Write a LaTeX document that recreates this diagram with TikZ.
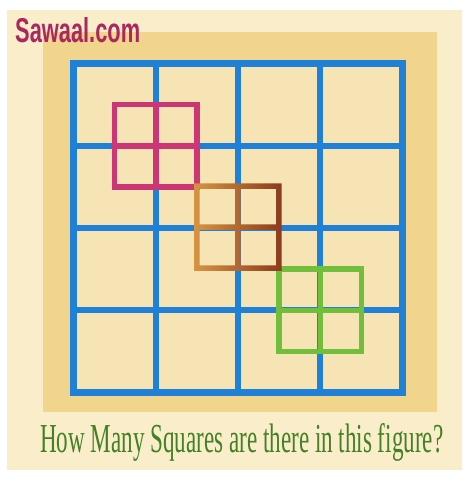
\documentclass[tikz,border=0pt]{standalone}
\usepackage{fontspec}
\setmainfont{Liberation Serif}
\newfontfamily\logofont{Liberation Sans}
\usepackage{graphicx}
\definecolor{gridblue}{RGB}{30,128,214}
\definecolor{boardgold}{RGB}{241,213,140}
\definecolor{cellcream}{RGB}{246,228,180}
\definecolor{panelcream}{RGB}{250,238,202}
\definecolor{pinksq}{RGB}{204,54,116}
\definecolor{browndark}{RGB}{140,58,30}
\definecolor{brownlight}{RGB}{214,148,66}
\definecolor{greensq}{RGB}{112,190,60}
\definecolor{logopurple}{RGB}{170,40,95}
\definecolor{questgreen}{RGB}{68,128,38}
\begin{document}
\begin{tikzpicture}[x=1pt,y=-1pt,
  gridline/.style={draw=gridblue,line width=6pt},
  smallsq/.style={line width=5.5pt}]
  \useasboundingbox (0,0) rectangle (469,481);

  % Backdrop: white page, cream panel, gold board.
  \fill[white] (0,0) rectangle (469,481);
  \fill[panelcream] (7,10) rectangle (462,470);
  \fill[boardgold] (43,32) rectangle (437,412);
  \fill[cellcream] (73.5,63.5) rectangle (402.7,392.7);

  % The 4x4 blue grid.
  \foreach \i in {1,2,3}{
    \draw[gridline] (73.5+82.3*\i,63.5)--(73.5+82.3*\i,392.7);
    \draw[gridline] (73.5,63.5+82.3*\i)--(402.7,63.5+82.3*\i);
  }
  \draw[gridline,line width=7pt] (73.5,63.5) rectangle (402.7,392.7);

  % Small 2x2 squares on the diagonal crossings.
  \foreach \k/\col in {1/pinksq,3/greensq}{
    \draw[smallsq,draw=\col] (73.5+82.3*\k-41.2,63.5+82.3*\k-41.2)
      rectangle (73.5+82.3*\k+41.2,63.5+82.3*\k+41.2);
    \draw[smallsq,draw=\col] (73.5+82.3*\k-41.2,63.5+82.3*\k)
      --(73.5+82.3*\k+41.2,63.5+82.3*\k);
    \draw[smallsq,draw=\col] (73.5+82.3*\k,63.5+82.3*\k-41.2)
      --(73.5+82.3*\k,63.5+82.3*\k+41.2);
  }
  \shade[left color=brownlight,right color=browndark,even odd rule]
    (194.2,183.4) rectangle (281.6,270.8)
    (199.7,188.9) rectangle (235.2,224.4)
    (240.6,188.9) rectangle (276.1,224.4)
    (199.7,229.8) rectangle (235.2,265.3)
    (240.6,229.8) rectangle (276.1,265.3);

  % Texts.
  \node[anchor=base west,inner sep=0pt,text=logopurple] (logo) at (15,43)
    {\resizebox{125pt}{25pt}{\logofont\bfseries Sawaal.com}};
  \node[anchor=base west,inner sep=0pt,text=questgreen] (question) at (40,452)
    {\resizebox{403pt}{29pt}{How Many Squares are there in this figure?}};
\end{tikzpicture}
\end{document}
